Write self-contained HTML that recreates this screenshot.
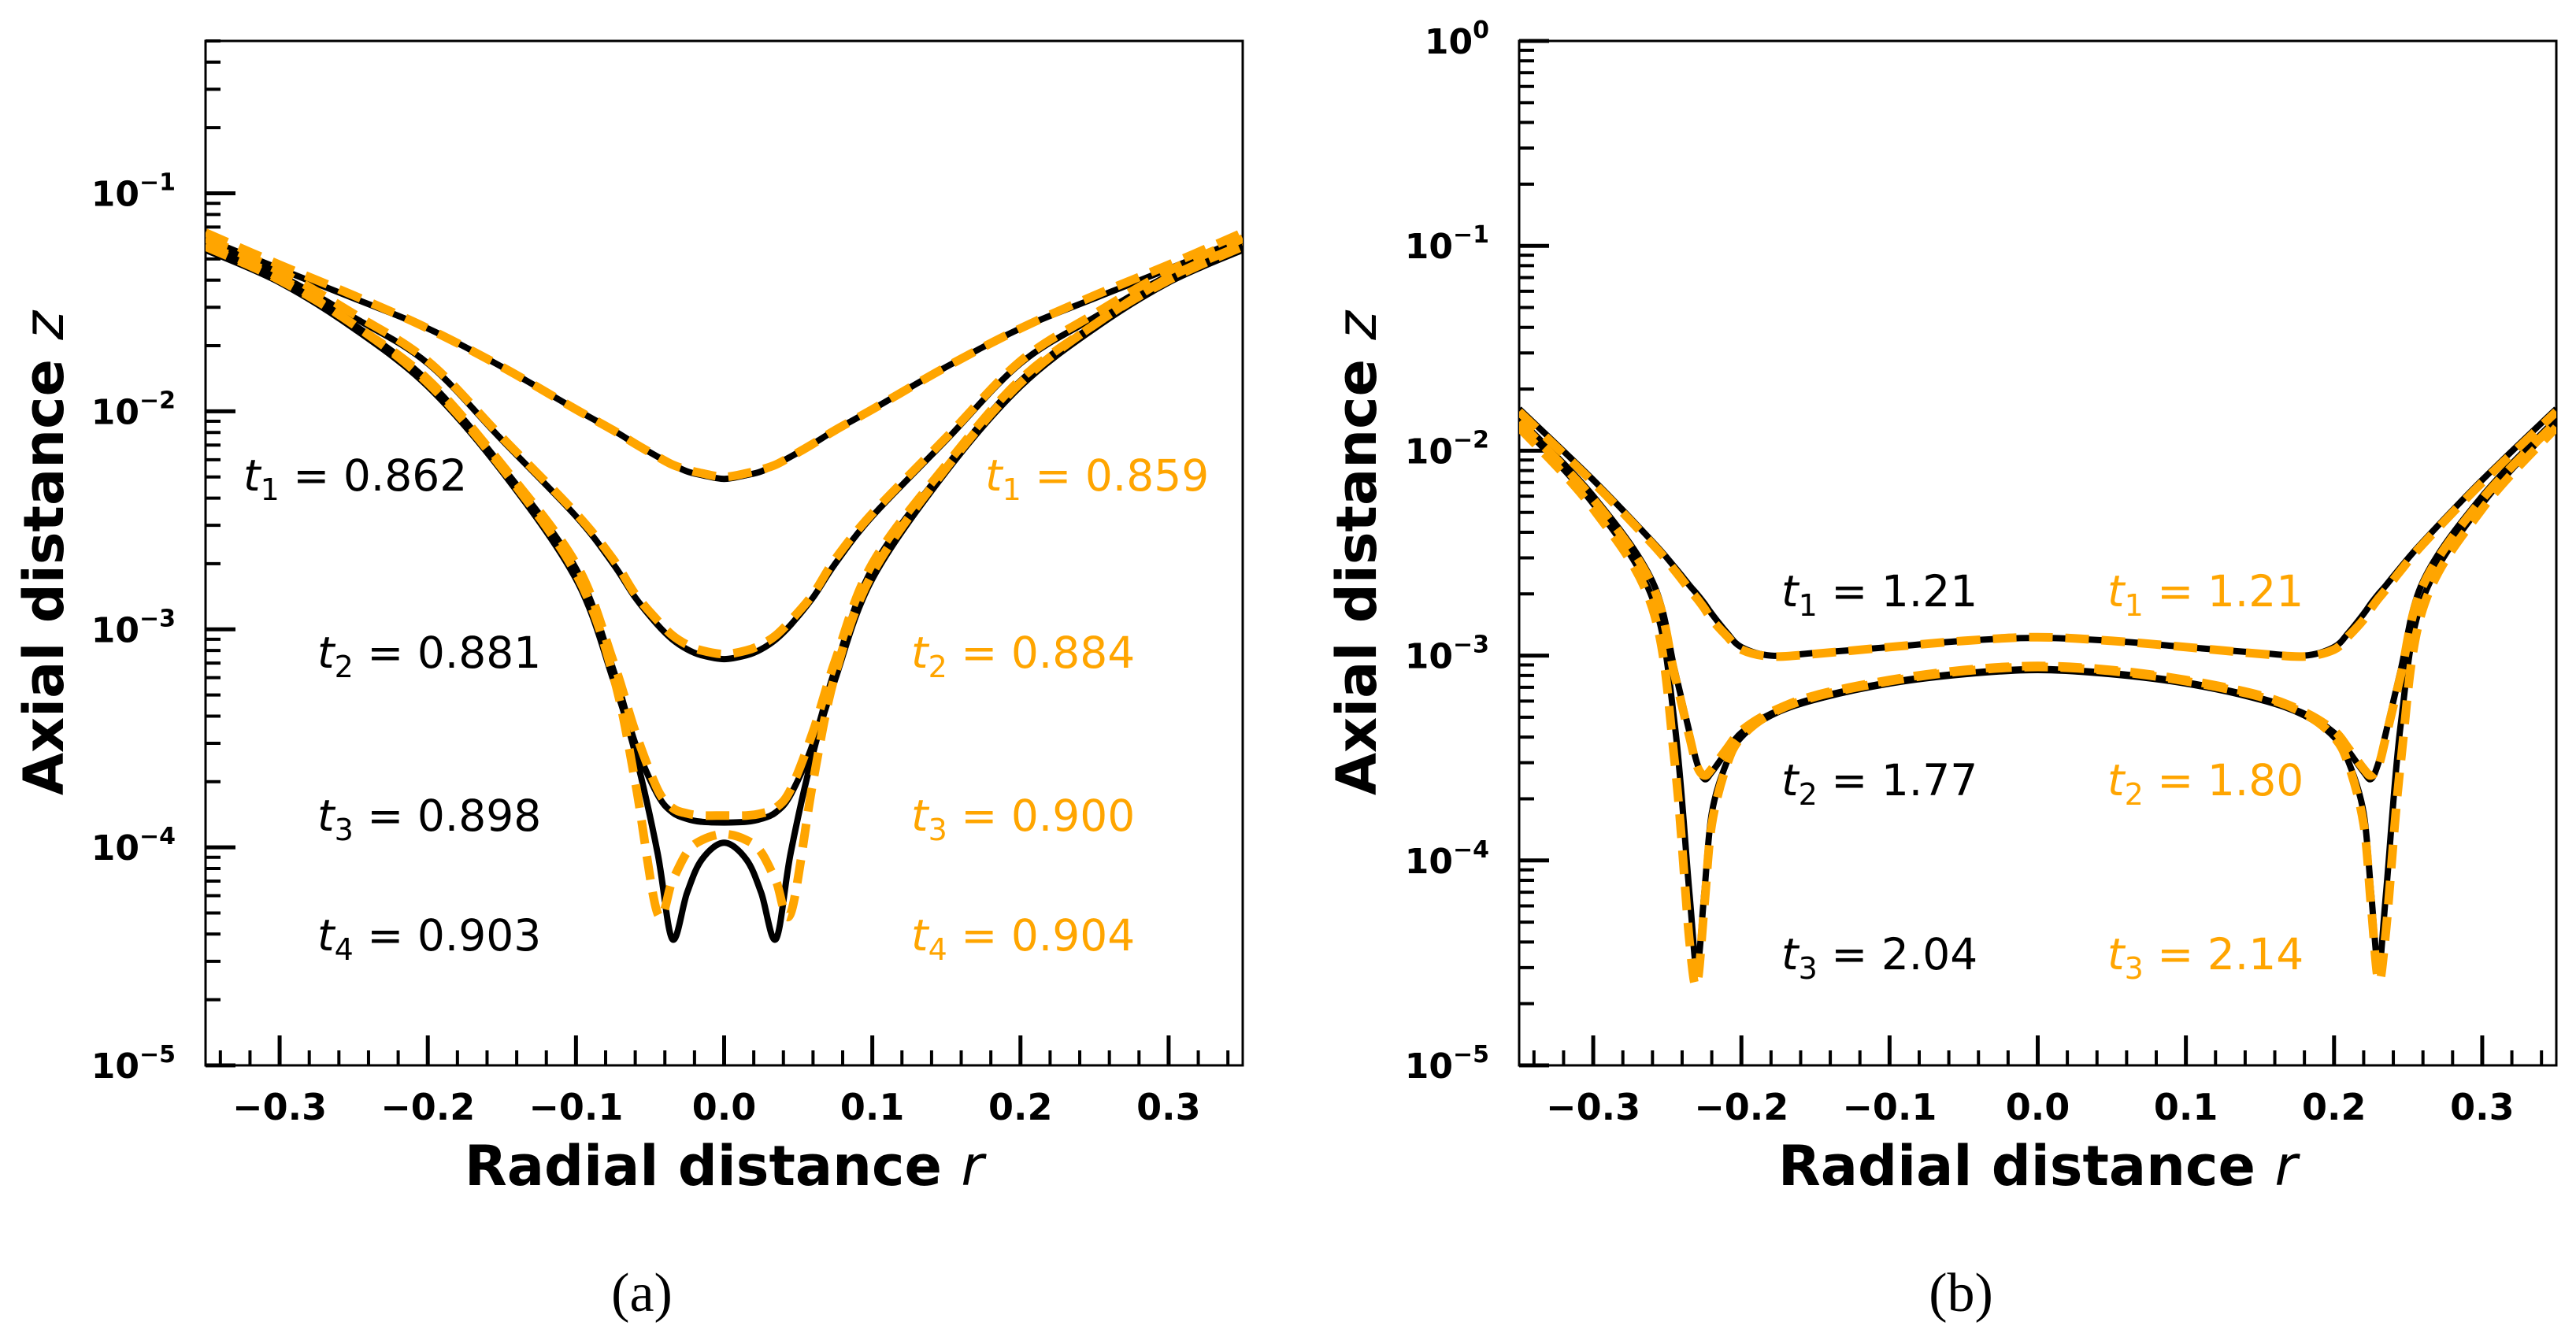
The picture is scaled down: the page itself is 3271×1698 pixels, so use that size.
<!DOCTYPE html>
<html><head><meta charset="utf-8">
<style>
html,body{margin:0;padding:0;background:#fff;}
svg{display:block;}
text{font-family:"DejaVu Sans","Liberation Sans",sans-serif;}
</style></head>
<body>
<svg id="fig" width="3271" height="1698" viewBox="0 0 3271 1698" xmlns="http://www.w3.org/2000/svg"></svg>
<script>
// ---------- Panel (a) data ----------
const rA = [-0.35,-0.3,-0.25,-0.2,-0.15,-0.1,-0.075,-0.06,-0.045,-0.035,-0.025,-0.015,0,0.015,0.025,0.035,0.045,0.06,0.075,0.1,0.15,0.2,0.25,0.3,0.35];
const a_t1_black = [0.062,0.045,0.033,0.024,0.016,0.0102,0.0082,0.0071,0.0062,0.0057,0.0053,0.0051,0.0049,0.0051,0.0053,0.0057,0.0062,0.0071,0.0082,0.0102,0.016,0.024,0.033,0.045,0.062];
const a_t1_orange = [0.066,0.047,0.034,0.024,0.016,0.0102,0.0082,0.0071,0.0062,0.0057,0.0054,0.0052,0.0050,0.0052,0.0054,0.0057,0.0062,0.0071,0.0082,0.0102,0.016,0.024,0.034,0.047,0.066];
const a_t2_black = [0.058,0.042,0.027,0.0166,0.0074,0.0033,0.0020,0.0014,0.00105,0.00090,0.00081,0.00076,0.00073,0.00076,0.00081,0.00090,0.00105,0.0014,0.0020,0.0033,0.0074,0.0166,0.027,0.042,0.058];
const a_t2_orange = [0.062,0.044,0.028,0.0170,0.0076,0.0034,0.0021,0.00145,0.0011,0.00094,0.00085,0.00080,0.00077,0.00080,0.00085,0.00094,0.0011,0.00145,0.0021,0.0034,0.0076,0.0170,0.028,0.044,0.062];
const a_t3_black = [0.056,0.040,0.025,0.0138,0.0056,0.0019,0.00066,0.00030,0.000175,0.000145,0.000135,0.000131,0.00013,0.000131,0.000135,0.000145,0.000175,0.00030,0.00066,0.0019,0.0056,0.0138,0.025,0.040,0.056];
const a_t3_orange = [0.058,0.041,0.025,0.0140,0.0057,0.0020,0.00072,0.00034,0.000185,0.000152,0.000143,0.00014,0.00014,0.00014,0.000143,0.000152,0.000185,0.00034,0.00072,0.0020,0.0057,0.0140,0.025,0.041,0.058];
const a_t4_black = [0.055,0.039,0.024,0.013,0.0053,0.0017,0.00059,0.00027,0.000095,0.000038,0.000062,0.000088,0.000105,0.000088,0.000062,0.000038,0.000095,0.00027,0.00059,0.0017,0.0053,0.013,0.024,0.039,0.055];
const a_t4_orange = [0.057,0.040,0.025,0.0135,0.0055,0.0018,0.00062,0.00020,0.000050,0.000070,0.000095,0.000108,0.000115,0.000108,0.000095,0.000070,0.000050,0.00020,0.00062,0.0018,0.0055,0.0135,0.025,0.040,0.057];

// ---------- Panel (b) data ----------
const rB = [-0.35,-0.3,-0.26,-0.245,-0.235,-0.23,-0.225,-0.22,-0.21,-0.2,-0.18,-0.15,-0.1,-0.05,0,0.05,0.1,0.15,0.18,0.2,0.21,0.22,0.225,0.23,0.235,0.245,0.26,0.3,0.35];
const b_t1_black = [0.016,0.0072,0.0036,0.0027,0.0022,0.0020,0.0018,0.0016,0.00130,0.00110,0.00100,0.00103,0.00110,0.00118,0.00122,0.00118,0.00110,0.00103,0.00100,0.00110,0.00130,0.0016,0.0018,0.0020,0.0022,0.0027,0.0036,0.0072,0.016];
const b_t1_orange = [0.0155,0.0070,0.0035,0.0026,0.0021,0.0019,0.0017,0.0015,0.00125,0.00107,0.00099,0.00102,0.00110,0.00118,0.00123,0.00118,0.00110,0.00102,0.00099,0.00107,0.00125,0.0015,0.0017,0.0019,0.0021,0.0026,0.0035,0.0070,0.0155];
const b_t2_black = [0.0143,0.0060,0.0023,0.00085,0.00042,0.00030,0.00025,0.00027,0.00034,0.00042,0.00052,0.00062,0.00074,0.00082,0.00086,0.00082,0.00074,0.00062,0.00052,0.00042,0.00034,0.00027,0.00025,0.00030,0.00042,0.00085,0.0023,0.0060,0.0143];
const b_t2_orange = [0.0138,0.0058,0.0022,0.00080,0.00040,0.00029,0.00026,0.00028,0.00035,0.00043,0.00053,0.00064,0.00076,0.00085,0.00089,0.00085,0.00076,0.00064,0.00053,0.00043,0.00035,0.00028,0.00026,0.00029,0.00040,0.00080,0.0022,0.0058,0.0138];
const b_t3_black = [0.0137,0.0055,0.0019,0.00046,0.000068,0.000030,0.000070,0.00017,0.00030,0.00040,0.00051,0.00061,0.00073,0.00081,0.00085,0.00081,0.00073,0.00061,0.00051,0.00040,0.00030,0.00017,0.000070,0.000030,0.000068,0.00046,0.0019,0.0055,0.0137];
const b_t3_orange = [0.0130,0.0052,0.0017,0.00030,0.000040,0.000025,0.000060,0.00015,0.00029,0.00040,0.00052,0.00063,0.00075,0.00084,0.00088,0.00084,0.00075,0.00063,0.00052,0.00040,0.00029,0.00015,0.000060,0.000026,0.000045,0.00030,0.0017,0.0052,0.0130];

const xTicks = [-0.3,-0.2,-0.1,0.0,0.1,0.2,0.3];
const xTickLabels = ["\u22120.3","\u22120.2","\u22120.1","0.0","0.1","0.2","0.3"];
const yDecA = [-5,-4,-3,-2,-1];
const yDecB = [-5,-4,-3,-2,-1,0];

const NS = "http://www.w3.org/2000/svg";
const svg = document.getElementById('fig');
function mk(tag, attrs, parent){
  const e = document.createElementNS(NS, tag);
  for (const k in attrs) e.setAttribute(k, attrs[k]);
  (parent||svg).appendChild(e);
  return e;
}

function makePanel(cfg){
  const g = mk('g', {});
  
  
  const L=cfg.L, R=cfg.R, T=cfg.T, B=cfg.B;
  const xs = r => L + (r - (-0.35)) / 0.7 * (R - L);
  const ys = v => B - (Math.log10(v) - cfg.ymin) / (cfg.ymax - cfg.ymin) * (B - T);

  const cid = 'clip' + cfg.name;
  const cp = mk('clipPath', {id: cid}, g);
  mk('rect', {x:L, y:T, width:R-L, height:B-T}, cp);

  const fr = mk('rect', {x:L, y:T, width:R-L, height:B-T, fill:'none', stroke:'#000', 'stroke-width':3}, g);
  
  

  const xg = mk('g', {}, g);
  
  
  for (let i = -17; i <= 17; i++){
    const r = i * 0.02;
    const x = xs(r);
    const major = Math.abs((r*10) - Math.round(r*10)) < 1e-6;
    mk('line', {x1:x, x2:x, y1:B, y2:B-(major?38:19), stroke:'#000', 'stroke-width': major?5:4}, xg);
  }
  xTicks.forEach((t, i) => {
    const tx = mk('text', {x: xs(t), y: B + 69, 'font-size': 46, 'font-weight':'bold', 'text-anchor':'middle'}, xg);
    tx.textContent = xTickLabels[i];
    
    
  });

  const yg = mk('g', {}, g);
  
  
  for (let d = -5; d < 1; d++){
    for (let m = 1; m <= 9; m++){
      const v = m * Math.pow(10, d);
      const lv = Math.log10(v);
      if (lv > cfg.ymax + 1e-6) continue;
      const y = ys(v);
      mk('line', {x1:L, x2:L+(m===1?38:19), y1:y, y2:y, stroke:'#000', 'stroke-width': m===1?5:4}, yg);
    }
  }
  cfg.yDec.forEach(d => {
    const tx = mk('text', {x: L - 38, y: ys(Math.pow(10,d)) + 16, 'font-size': 44, 'font-weight':'bold', 'text-anchor':'end'}, yg);
    
    
    const a = mk('tspan', {}, tx); a.textContent = '10';
    const b = mk('tspan', {dy: -20, 'font-size': 30}, tx);
    b.textContent = d === 0 ? '0' : '\u2212' + Math.abs(d);
  });

  const xt = mk('text', {x:(L+R)/2, y:B+152, 'font-size':70, 'font-weight':'bold', 'text-anchor':'middle'}, g);
  
  
  xt.innerHTML = 'Radial distance <tspan font-style="italic" font-weight="normal">r</tspan>';
  const yt = mk('text', {x:0, y:0, 'font-size':70, 'font-weight':'bold', 'text-anchor':'middle', transform:`translate(${cfg.yTitleX},${(T+B)/2}) rotate(-90)`}, g);
  
  
  yt.innerHTML = 'Axial distance <tspan font-style="italic" font-weight="normal">z</tspan>';

  const cap = mk('text', {x: cfg.capX, y: 1665, 'font-size': 70, 'text-anchor':'middle', style:'font-family:"Liberation Serif",serif'}, g);
  cap.textContent = cfg.caption;
  
  

  const cg = mk('g', {'clip-path': `url(#${cid})`}, g);
  
  
  function pathFor(rs, vs){
    const P = rs.map((r,i) => [xs(r), ys(vs[i])]);
    let d = `M${P[0][0].toFixed(1)},${P[0][1].toFixed(1)}`;
    for (let i = 0; i < P.length-1; i++){
      const p0 = P[Math.max(0,i-1)], p1 = P[i], p2 = P[i+1], p3 = P[Math.min(P.length-1,i+2)];
      const c1 = [p1[0]+(p2[0]-p0[0])/6, p1[1]+(p2[1]-p0[1])/6];
      const c2 = [p2[0]-(p3[0]-p1[0])/6, p2[1]-(p3[1]-p1[1])/6];
      d += ` C${c1[0].toFixed(1)},${c1[1].toFixed(1)} ${c2[0].toFixed(1)},${c2[1].toFixed(1)} ${p2[0].toFixed(1)},${p2[1].toFixed(1)}`;
    }
    return d;
  }
  cfg.series.forEach(s => {
    const p = mk('path', {d: pathFor(cfg.r, s.black), fill:'none', stroke:'#000', 'stroke-width':8, 'stroke-linejoin':'round'}, cg);
    
    
  });
  cfg.series.forEach(s => {
    const p = mk('path', {d: pathFor(cfg.r, s.orange), fill:'none', stroke:'#FFA500', 'stroke-width':11, 'stroke-dasharray':'30 16'}, cg);
    
    
  });

  cfg.labels.forEach(lb => {
    const t = mk('text', {x: lb.x, y: lb.y, 'font-size': 55, fill: lb.c}, g);
    
    
    t.innerHTML = `<tspan font-style="italic">t</tspan><tspan font-size="38" dy="12">${lb.n}</tspan><tspan dy="-12"> = ${lb.v}</tspan>`;
  });
}

makePanel({
  name:'panel-a', L:261, R:1578, T:52, B:1353, ymin:-5, ymax:Math.log10(0.5), yDec:yDecA,
  yTitleX:80, capX:815, caption:'(a)', r:rA,
  series:[
    {id:'a-t1', black:a_t1_black, orange:a_t1_orange},
    {id:'a-t2', black:a_t2_black, orange:a_t2_orange},
    {id:'a-t3', black:a_t3_black, orange:a_t3_orange},
    {id:'a-t4', black:a_t4_black, orange:a_t4_orange}],
  labels:[
    {x:309,y:623,c:'#000',n:'1',v:'0.862'},{x:1251,y:623,c:'#FFA500',n:'1',v:'0.859'},
    {x:403,y:848,c:'#000',n:'2',v:'0.881'},{x:1157,y:848,c:'#FFA500',n:'2',v:'0.884'},
    {x:403,y:1055,c:'#000',n:'3',v:'0.898'},{x:1157,y:1055,c:'#FFA500',n:'3',v:'0.900'},
    {x:403,y:1207,c:'#000',n:'4',v:'0.903'},{x:1157,y:1207,c:'#FFA500',n:'4',v:'0.904'}]
});
makePanel({
  name:'panel-b', L:1929, R:3246, T:52, B:1353, ymin:-5, ymax:0, yDec:yDecB,
  yTitleX:1747, capX:2490, caption:'(b)', r:rB,
  series:[
    {id:'b-t1', black:b_t1_black, orange:b_t1_orange},
    {id:'b-t2', black:b_t2_black, orange:b_t2_orange},
    {id:'b-t3', black:b_t3_black, orange:b_t3_orange}],
  labels:[
    {x:2262,y:770,c:'#000',n:'1',v:'1.21'},{x:2676,y:770,c:'#FFA500',n:'1',v:'1.21'},
    {x:2262,y:1010,c:'#000',n:'2',v:'1.77'},{x:2676,y:1010,c:'#FFA500',n:'2',v:'1.80'},
    {x:2262,y:1231,c:'#000',n:'3',v:'2.04'},{x:2676,y:1231,c:'#FFA500',n:'3',v:'2.14'}]
});
</script>
</body></html>
